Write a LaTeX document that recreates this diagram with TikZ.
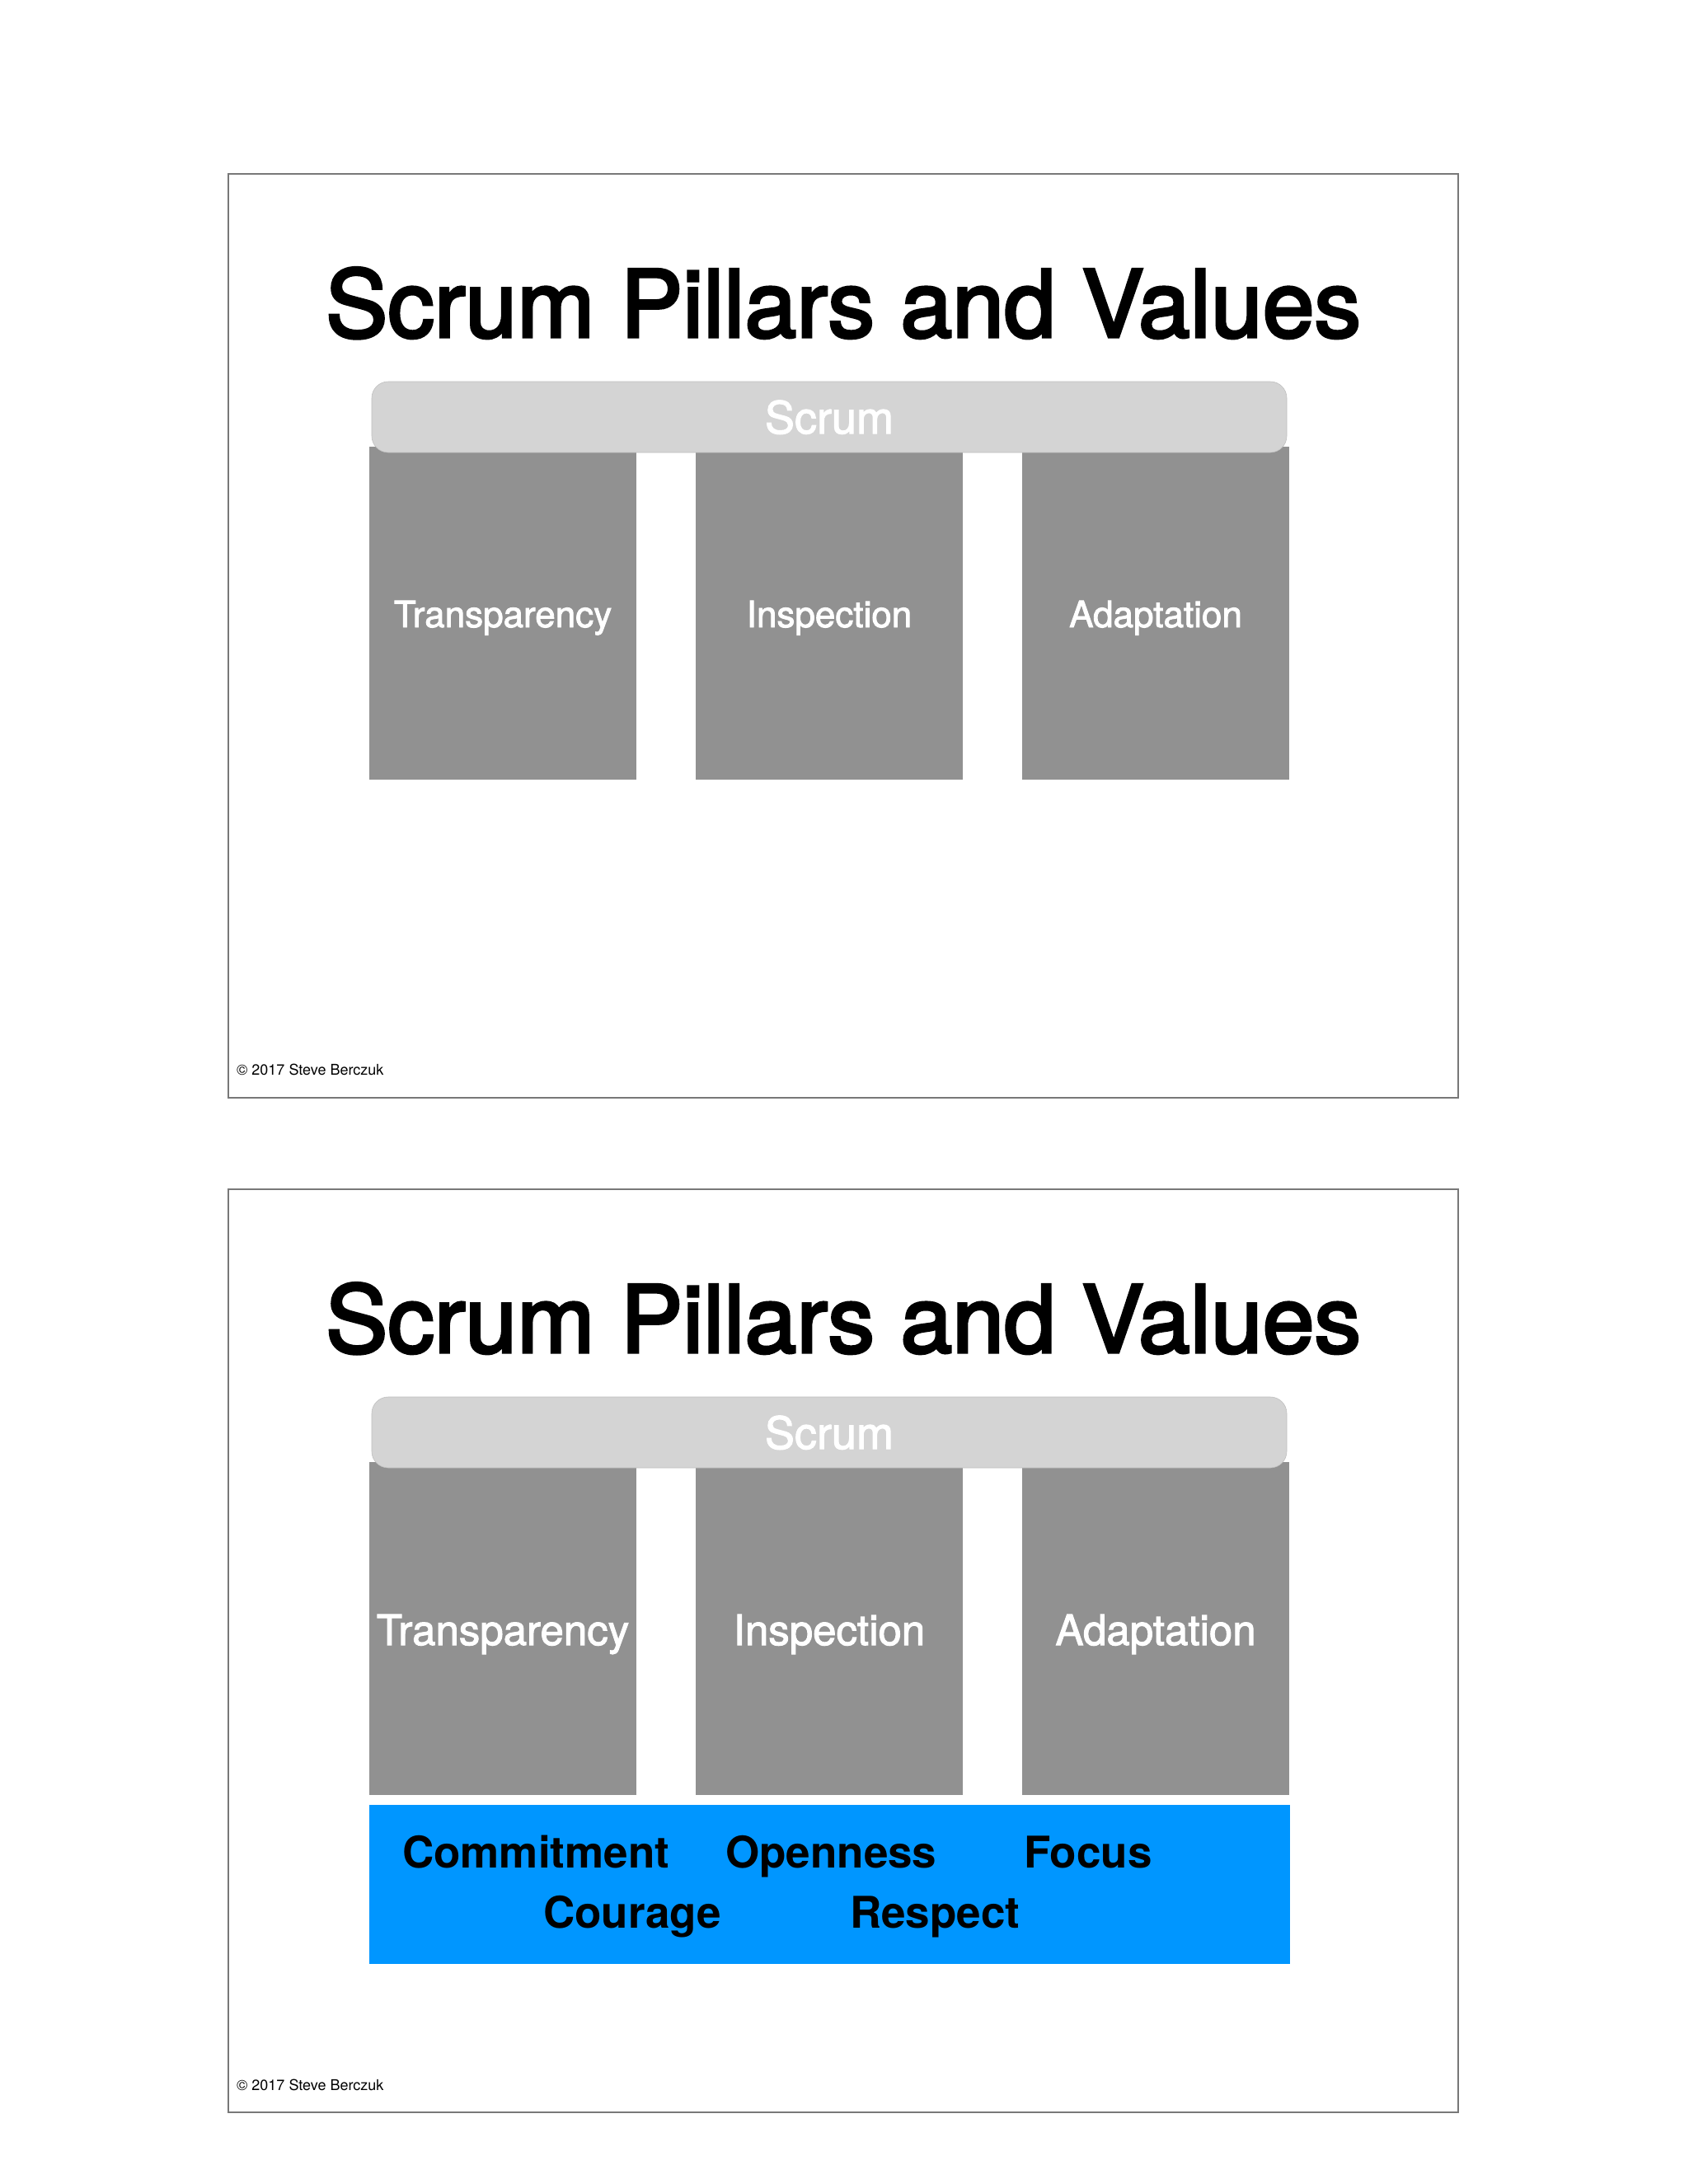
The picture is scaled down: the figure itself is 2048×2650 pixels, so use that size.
\documentclass[tikz,border=0pt]{standalone}
\usepackage{fontspec}
\setmainfont{TeX Gyre Heros}
\newfontfamily\medfont{TeX Gyre Heros}[FakeBold=2]
\newfontfamily\titlefont{TeX Gyre Heros}[FakeBold=3]
\definecolor{pillargray}{RGB}{145,145,145}
\definecolor{bargray}{RGB}{212,212,212}
\definecolor{valueblue}{RGB}{0,150,255}
\definecolor{framegray}{RGB}{120,120,120}
\tikzset{
  slideframe/.style={draw=framegray, line width=2pt, fill=white},
  titletext/.style={anchor=base, inner sep=0pt, font=\titlefont\fontsize{113}{130}\selectfont, text=black},
  pillarbox/.style={rectangle, fill=pillargray, minimum width=324pt, minimum height=404pt, inner sep=0pt},
  pillarA/.style={anchor=base, inner sep=0pt, text=white, font=\medfont\fontsize{44}{50}\selectfont},
  pillarB/.style={anchor=base, inner sep=0pt, text=white, font=\medfont\fontsize{51}{56}\selectfont},
  scrumbar/.style={rectangle, rounded corners=20pt, fill=bargray, draw=bargray!90!black, line width=0.6pt, minimum width=1110pt, minimum height=86pt, inner sep=0pt},
  scrumtext/.style={anchor=base, inner sep=0pt, text=white, font=\medfont\fontsize{54}{60}\selectfont},
  valuebox/.style={rectangle, fill=valueblue, minimum width=1117pt, minimum height=193pt, inner sep=0pt},
  valuetext/.style={anchor=base west, inner sep=0pt, font=\bfseries\fontsize{53}{60}\selectfont, text=black},
  copytext/.style={anchor=base west, inner sep=0pt, font=\fontsize{18}{20}\selectfont, text=black}
}
\begin{document}
\begin{tikzpicture}[x=1pt, y=-1pt]
\useasboundingbox (0,0) rectangle (2048,2650);
\fill[white] (0,0) rectangle (2048,2650);
% ---------- slide 1 ----------
\draw[slideframe] (277,211) rectangle (1769,1332);
\node[titletext] (t1) at (1023,409) {Scrum Pillars and Values};
\node[pillarbox] (p1a) at (610,744) {};
\node[pillarbox] (p1b) at (1006,744) {};
\node[pillarbox] (p1c) at (1402,744) {};
\node[pillarA] (l1a) at (610,761) {Transparency};
\node[pillarA] (l1b) at (1006,761) {Inspection};
\node[pillarA] (l1c) at (1402,761) {Adaptation};
\node[scrumbar] (s1) at (1006,506) {};
\node[scrumtext] (st1) at (1006,526) {Scrum};
\node[copytext] (c1) at (287,1304) {© 2017 Steve Berczuk};
% ---------- slide 2 ----------
\draw[slideframe] (277,1443) rectangle (1769,2563);
\node[titletext] (t2) at (1023,1641) {Scrum Pillars and Values};
\node[pillarbox] (p2a) at (610,1976) {};
\node[pillarbox] (p2b) at (1006,1976) {};
\node[pillarbox] (p2c) at (1402,1976) {};
\node[pillarB] (l2a) at (610,1996) {Transparency};
\node[pillarB] (l2b) at (1006,1996) {Inspection};
\node[pillarB] (l2c) at (1402,1996) {Adaptation};
\node[scrumbar] (s2) at (1006,1738) {};
\node[scrumtext] (st2) at (1006,1758) {Scrum};
\node[valuebox] (vb) at (1006.5,2286.5) {};
\node[valuetext] (v1) at (488,2266) {Commitment};
\node[valuetext] (v2) at (880,2266) {Openness};
\node[valuetext] (v3) at (1242,2266) {Focus};
\node[valuetext] (v4) at (659,2339) {Courage};
\node[valuetext] (v5) at (1031,2339) {Respect};
\node[copytext] (c2) at (287,2536) {© 2017 Steve Berczuk};
\end{tikzpicture}
\end{document}
